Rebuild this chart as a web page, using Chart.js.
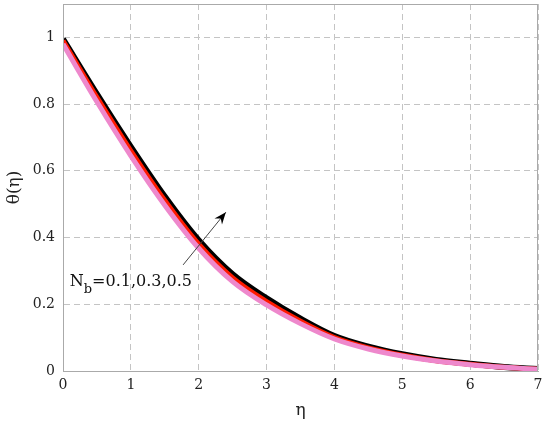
<!DOCTYPE html>
<html>
<head>
<meta charset="utf-8">
<script src="https://cdn.jsdelivr.net/npm/chart.js@4.4.1/dist/chart.umd.min.js"></script>
<style>
  html, body { margin: 0; padding: 0; background: #fff; }
  #wrap { width: 550px; height: 429px; }
</style>
</head>
<body>
<div id="wrap"><canvas id="c"></canvas></div>
<script>
const eta = [0, 0.5, 1, 1.5, 2, 2.5, 3, 3.5, 4, 4.5, 5, 5.5, 6, 6.5, 7];
const thetaPink  = [0.98, 0.807, 0.645, 0.497, 0.368, 0.268, 0.198, 0.142, 0.096, 0.066, 0.045, 0.03, 0.019, 0.011, 0.005];
const thetaRed   = [0.99, 0.82, 0.66, 0.511, 0.38, 0.279, 0.208, 0.149, 0.1, 0.069, 0.047, 0.031, 0.02, 0.011, 0.005];
const thetaBlack = [0.995, 0.83, 0.672, 0.523, 0.392, 0.29, 0.218, 0.157, 0.105, 0.073, 0.05, 0.033, 0.022, 0.012, 0.006];
const xTicks = [0, 1, 2, 3, 4, 5, 6, 7];
const yTicks = [0, 0.2, 0.4, 0.6, 0.8, 1];

const pts = arr => arr.map((v, i) => ({ x: eta[i], y: v }));

// arrow + label annotation
const annot = {
  id: 'annot',
  afterDatasetsDraw(chart) {
    const { ctx, scales: { x, y } } = chart;
    const x0 = x.getPixelForValue(1.77), y0 = y.getPixelForValue(0.318);
    const x1 = x.getPixelForValue(2.4), y1 = y.getPixelForValue(0.476);
    ctx.save();
    ctx.strokeStyle = '#444';
    ctx.lineWidth = 1;
    ctx.beginPath();
    ctx.moveTo(x0, y0);
    ctx.lineTo(x1, y1);
    ctx.stroke();
    const a = Math.atan2(y1 - y0, x1 - x0);
    ctx.fillStyle = '#000';
    ctx.beginPath();
    ctx.moveTo(x1, y1);
    ctx.lineTo(x1 - 13 * Math.cos(a - 0.38), y1 - 13 * Math.sin(a - 0.38));
    ctx.lineTo(x1 - 8 * Math.cos(a), y1 - 8 * Math.sin(a));
    ctx.lineTo(x1 - 13 * Math.cos(a + 0.38), y1 - 13 * Math.sin(a + 0.38));
    ctx.closePath();
    ctx.fill();

    const lx = x.getPixelForValue(0.1), ly = y.getPixelForValue(0.255);
    ctx.fillStyle = '#111';
    ctx.textBaseline = 'alphabetic';
    ctx.font = '16px "DejaVu Serif"';
    ctx.fillText('N', lx, ly);
    let w = ctx.measureText('N').width;
    ctx.font = '13px "DejaVu Serif"';
    ctx.fillText('b', lx + w, ly + 7);
    w += ctx.measureText('b').width;
    ctx.font = '16px "DejaVu Serif"';
    ctx.fillText('=0.1,0.3,0.5', lx + w, ly);
    ctx.restore();
  }
};

new Chart(document.getElementById('c'), {
  type: 'line',
  data: {
    datasets: [
      { data: pts(thetaPink), borderColor: '#ee88cc', borderWidth: 5, pointRadius: 0, cubicInterpolationMode: 'monotone' },
      { data: pts(thetaRed), borderColor: '#ff1a00', borderWidth: 5, pointRadius: 0, cubicInterpolationMode: 'monotone' },
      { data: pts(thetaBlack), borderColor: '#000000', borderWidth: 6, pointRadius: 0, cubicInterpolationMode: 'monotone' }
    ]
  },
  options: {
    responsive: true,
    maintainAspectRatio: false,
    animation: false,
    layout: { padding: { top: 4, right: 12, left: 0, bottom: 8 } },
    plugins: { legend: { display: false }, tooltip: { enabled: false } },
    scales: {
      x: {
        type: 'linear', min: 0, max: 7,
        afterBuildTicks: s => { s.ticks = xTicks.map(v => ({ value: v })); },
        afterFit: s => { s.height = 50; s.paddingLeft = 0; s.paddingRight = 0; },
        grid: { color: '#c4c4c4', drawTicks: false },
        border: { color: '#aaa', width: 1, dash: [6, 4] },
        ticks: { color: '#222', font: { family: 'DejaVu Serif', size: 14 }, padding: 6, callback: v => String(v) },
        title: { display: true, text: 'η', color: '#222', font: { family: 'DejaVu Serif', size: 17 }, padding: { top: 0, bottom: 0 } }
      },
      y: {
        type: 'linear', min: 0, max: 1.1,
        afterBuildTicks: s => { s.ticks = yTicks.map(v => ({ value: v })); },
        afterFit: s => { s.width = 63; s.paddingTop = 0; s.paddingBottom = 0; },
        grid: { color: '#c4c4c4', drawTicks: false },
        border: { color: '#aaa', width: 1, dash: [6, 4] },
        ticks: { color: '#222', font: { family: 'DejaVu Serif', size: 14 }, padding: 8, callback: v => String(v) },
        title: { display: true, text: 'θ(η)', color: '#222', font: { family: 'DejaVu Serif', size: 17 }, padding: { bottom: 0 } }
      }
    }
  },
  plugins: [annot, {
    id: 'box',
    afterDraw(chart) {
      const { ctx, chartArea: a } = chart;
      ctx.save();
      ctx.strokeStyle = '#aaa';
      ctx.lineWidth = 1;
      ctx.strokeRect(a.left + 0.5, a.top + 0.5, a.right - a.left - 1, a.bottom - a.top);
      ctx.restore();
    }
  }]
});
</script>
</body>
</html>
